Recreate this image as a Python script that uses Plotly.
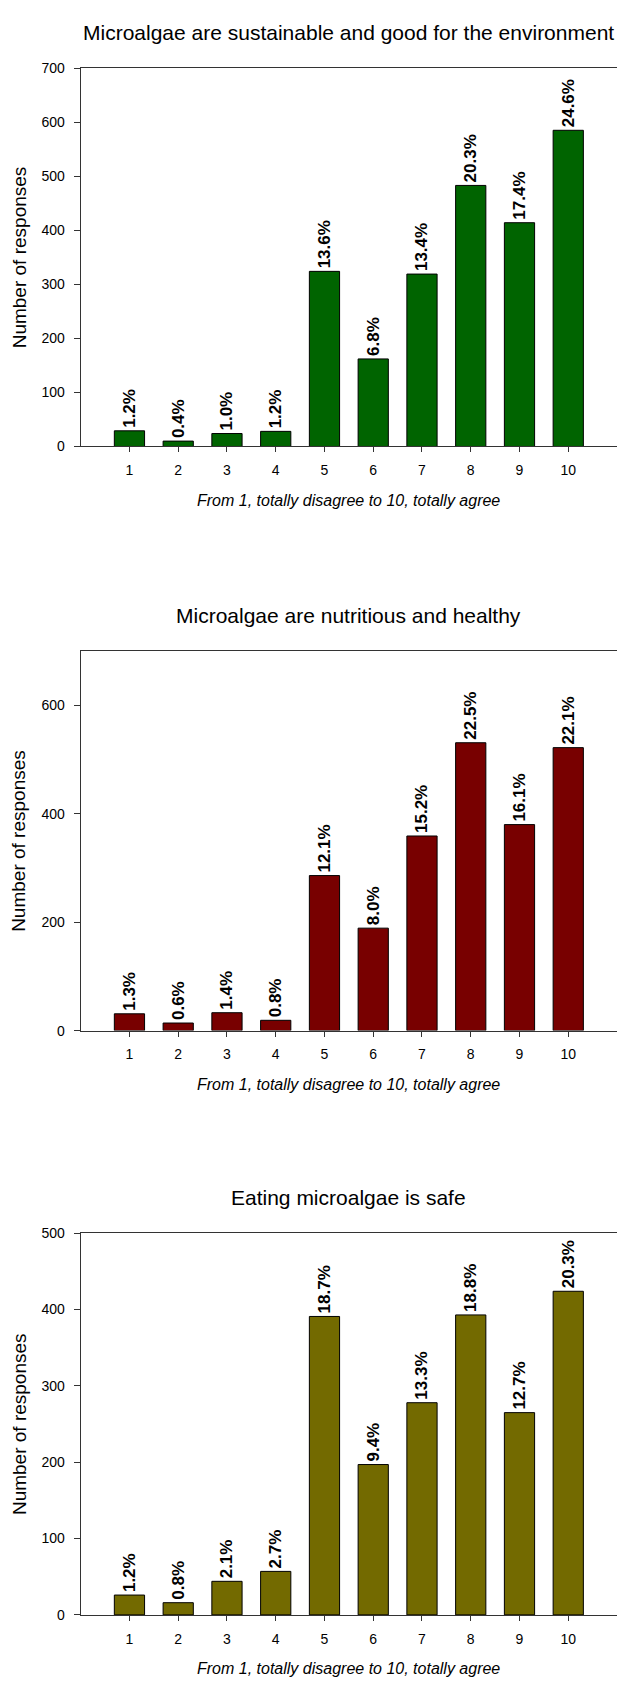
import plotly.graph_objects as go

categories = [1, 2, 3, 4, 5, 6, 7, 8, 9, 10]
tick_labels = ["1", "2", "3", "4", "5", "6", "7", "8", "9", "10"]

titles = [
    "Microalgae are sustainable and good for the environment",
    "Microalgae are nutritious and healthy",
    "Eating microalgae is safe",
]

env_counts = [29, 10, 24, 28, 324, 162, 319, 483, 414, 585]
env_pct = ["1.2%", "0.4%", "1.0%", "1.2%", "13.6%", "6.8%", "13.4%", "20.3%", "17.4%", "24.6%"]

nutri_counts = [31, 14, 33, 19, 286, 189, 359, 531, 380, 522]
nutri_pct = ["1.3%", "0.6%", "1.4%", "0.8%", "12.1%", "8.0%", "15.2%", "22.5%", "16.1%", "22.1%"]

safe_counts = [26, 16, 44, 57, 391, 197, 278, 393, 265, 424]
safe_pct = ["1.2%", "0.8%", "2.1%", "2.7%", "18.7%", "9.4%", "13.3%", "18.8%", "12.7%", "20.3%"]

colors = ["#006400", "#780000", "#736a00"]
y_ranges = [[0, 700], [0, 700], [0, 500]]
y_ticks = [list(range(0, 701, 100)), list(range(0, 601, 200)), list(range(0, 501, 100))]

W, H = 617, 1686
FONT = "Liberation Sans, Arial, sans-serif"
LINE = "#333333"

# pixel geometry of each panel (top, bottom)
panels_px = [(60.7, 442.7), (649.3, 1032.4), (1237.0, 1622.3)]
x_left_px = 80.7

def py(px):
    return 1 - px / H

fig = go.Figure()
series = [(env_counts, env_pct), (nutri_counts, nutri_pct), (safe_counts, safe_pct)]

annotations = []
for i, ((cnt, pct), col, (top, bot)) in enumerate(zip(series, colors, panels_px)):
    n = "" if i == 0 else str(i + 1)
    fig.add_trace(go.Bar(
        x=categories, y=cnt, text=pct,
        xaxis="x" + n, yaxis="y" + n,
        marker=dict(color=col, line=dict(color="#000000", width=1)),
        width=0.62,
        textposition="outside", textangle=-90,
        textfont=dict(family=FONT, size=17, color="#000000", weight="bold"),
        constraintext="none", cliponaxis=False,
        showlegend=False, hoverinfo="skip",
    ))
    fig.layout["xaxis" + n] = dict(
        domain=[x_left_px / W, 1.0], range=[0, 11], anchor="y" + n,
        tickmode="array", tickvals=categories, ticktext=tick_labels,
        ticks="outside", ticklen=5, tickcolor=LINE, tickwidth=1,
        showline=True, linecolor=LINE, linewidth=1, mirror=True,
        showgrid=False, zeroline=False, ticklabelstandoff=6,
        tickfont=dict(family=FONT, size=14, color="#000000"),
        fixedrange=True,
    )
    fig.layout["yaxis" + n] = dict(
        domain=[py(bot), py(top)], range=y_ranges[i], anchor="x" + n,
        tickmode="array", tickvals=y_ticks[i],
        ticks="outside", ticklen=6, tickcolor=LINE, tickwidth=1,
        showline=True, linecolor=LINE, linewidth=1,
        showgrid=False, zeroline=False, ticklabelstandoff=6,
        tickfont=dict(family=FONT, size=14, color="#000000"),
        fixedrange=True,
    )
    # panel title
    annotations.append(dict(
        text=titles[i], x=(x_left_px + W) / 2 / W, y=py(top - 36),
        xref="paper", yref="paper", xanchor="center", yanchor="middle",
        showarrow=False, font=dict(family=FONT, size=21, color="#000000"),
    ))
    # y axis title
    annotations.append(dict(
        text="Number of responses", x=19 / W, y=py((top + bot) / 2),
        xref="paper", yref="paper", xanchor="center", yanchor="middle",
        textangle=-90, showarrow=False,
        font=dict(family=FONT, size=19, color="#000000"),
    ))
    # x axis title
    annotations.append(dict(
        text="<i>From 1, totally disagree to 10, totally agree</i>",
        x=(x_left_px + W) / 2 / W, y=py(bot + 54.5),
        xref="paper", yref="paper", xanchor="center", yanchor="middle",
        showarrow=False, font=dict(family=FONT, size=16, color="#000000"),
    ))

fig.update_layout(
    width=W, height=H,
    margin=dict(l=0, r=0, t=0, b=0),
    paper_bgcolor="white", plot_bgcolor="white",
    annotations=annotations,
    bargap=0.38,
)

fig.write_html(
    "out.html",
    config={"displayModeBar": False, "staticPlot": True},
    post_script="document.body.style.margin='0';document.body.style.overflow='hidden';",
)
